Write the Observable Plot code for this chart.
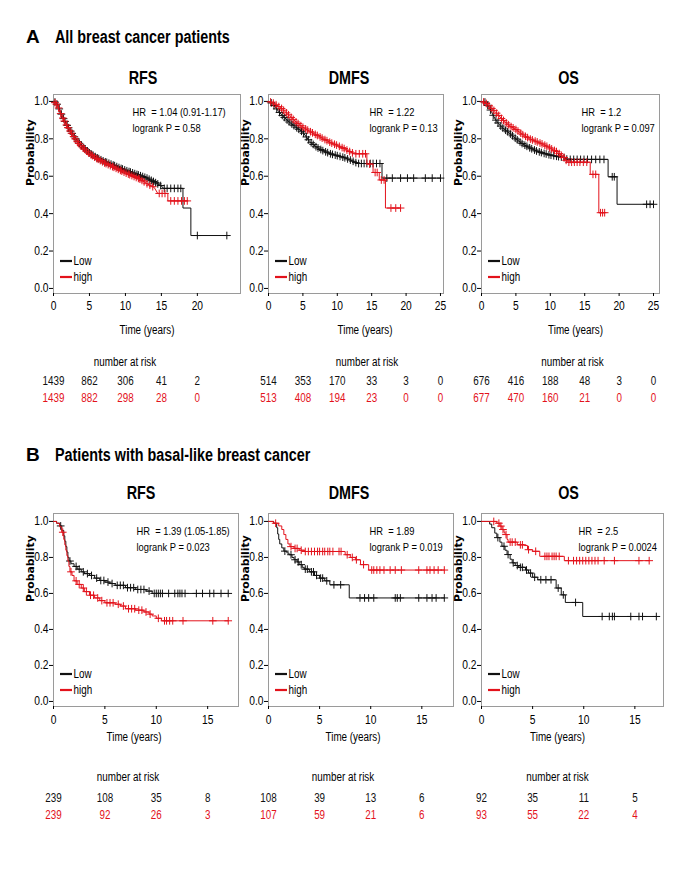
<!DOCTYPE html>
<html><head><meta charset="utf-8">
<script src="https://cdn.jsdelivr.net/npm/d3@7"></script>
<script src="https://cdn.jsdelivr.net/npm/@observablehq/plot@0.6"></script>
<style>
body{margin:0;background:#fff;}
#fig{position:relative;width:685px;height:869px;overflow:hidden;background:#fff;}
.hdr{position:absolute;font-weight:bold;color:#000;white-space:nowrap;line-height:20px;}
.plot{position:absolute;}
</style></head><body><div id="fig"></div>
<script>
// ---------- data ----------
const groups = ["Low", "high"];
const yTicks = [0, 0.2, 0.4, 0.6, 0.8, 1.0];
const ticksA20 = [0, 5, 10, 15, 20];
const ticksA25 = [0, 5, 10, 15, 20, 25];
const ticksB = [0, 5, 10, 15];

// Panel A – RFS
const aRfsLow = [[0,1],[0.3,0.995],[0.6,0.98],[1,0.94],[1.5,0.9],[2,0.865],[2.5,0.835],[3,0.805],[3.5,0.78],[4,0.76],[5,0.725],[6,0.70],[7,0.68],[8,0.665],[9,0.648],[10,0.632],[11,0.618],[12,0.604],[13,0.59],[14,0.57],[15,0.548],[15.3,0.535],[18,0.535],[18,0.43],[19.1,0.43],[19.1,0.283],[24.1,0.283]];
const aRfsHigh = [[0,1],[0.3,0.99],[0.6,0.975],[1,0.935],[1.5,0.895],[2,0.86],[2.5,0.83],[3,0.80],[3.5,0.775],[4,0.755],[5,0.72],[6,0.695],[7,0.673],[8,0.655],[9,0.637],[10,0.618],[11,0.602],[12,0.585],[13,0.56],[14,0.54],[14.5,0.508],[15.9,0.508],[15.9,0.468],[18.6,0.468]];
const aRfsLowCens = [0.2,0.5,0.8,1.1,1.4,1.6,1.9,2.1,2.4,2.6,2.9,3.1,3.4,3.6,3.9,4.2,4.4,4.7,5.0,5.3,5.5,5.8,6.1,6.3,6.6,6.9,7.2,7.4,7.7,8.0,8.3,8.5,8.8,9.1,9.4,9.6,9.9,10.2,10.5,10.7,11.0,11.3,11.6,11.8,12.1,12.4,12.7,13.0,13.3,13.6,13.9,14.2,14.5,14.9,15.4,15.8,16.3,16.8,17.3,17.7,20.0,24.1];
const aRfsHighCens = [0.2,0.4,0.7,1.0,1.3,1.5,1.8,2.0,2.3,2.5,2.8,3.0,3.3,3.5,3.8,4.1,4.3,4.6,4.9,5.2,5.4,5.7,6.0,6.2,6.5,6.8,7.1,7.3,7.6,7.9,8.2,8.4,8.7,9.0,9.3,9.5,9.8,10.1,10.4,10.6,10.9,11.2,11.5,11.8,12.0,12.3,12.6,13.0,13.4,13.8,14.7,15.1,15.5,16.3,16.8,17.3,17.8,18.2,18.6];
const aRfsRiskLow = [1439, 862, 306, 41, 2];
const aRfsRiskHigh = [1439, 882, 298, 28, 0];
const aRfsStats = ["HR  = 1.04 (0.91-1.17)", "logrank P = 0.58"];

// Panel A – DMFS
const aDmfsLow = [[0,1],[0.5,0.99],[1,0.97],[1.5,0.945],[2,0.925],[3,0.89],[4,0.862],[5,0.835],[5.5,0.81],[6,0.785],[7,0.755],[8,0.735],[9,0.72],[10,0.71],[11,0.70],[12,0.685],[13,0.668],[16.5,0.668],[16.5,0.59],[25,0.59]];
const aDmfsHigh = [[0,1],[0.5,0.995],[1,0.985],[2,0.96],[3,0.925],[4,0.89],[5,0.862],[6,0.84],[7,0.82],[8,0.80],[9,0.78],[10,0.765],[11,0.748],[12,0.728],[12.5,0.72],[14.3,0.72],[14.3,0.665],[15.2,0.665],[15.2,0.62],[16.1,0.62],[16.1,0.58],[17,0.58],[17,0.43],[19.2,0.43]];
const aDmfsLowCens = [0.4,0.8,1.2,1.6,2.0,2.3,2.7,3.0,3.4,3.7,4.1,4.4,4.8,5.1,5.5,5.8,6.2,6.5,6.9,7.2,7.6,7.9,8.3,8.6,9.0,9.3,9.7,10.0,10.4,10.8,11.1,11.5,11.9,12.3,12.7,13.1,13.5,13.9,14.3,14.8,15.2,15.7,16.2,17.2,18.0,19.2,20.2,21.1,22.8,23.8,25.0];
const aDmfsHighCens = [0.3,0.7,1.1,1.5,1.9,2.2,2.6,2.9,3.3,3.6,4.0,4.3,4.7,5.0,5.4,5.7,6.1,6.4,6.8,7.1,7.5,7.8,8.2,8.5,8.9,9.2,9.6,9.9,10.3,10.7,11.0,11.4,11.8,12.2,12.7,13.2,13.7,14.1,14.7,15.5,15.8,16.4,16.8,17.8,18.5,19.2];
const aDmfsRiskLow = [514, 353, 170, 33, 3, 0];
const aDmfsRiskHigh = [513, 408, 194, 23, 0, 0];
const aDmfsStats = ["HR  = 1.22", "logrank P = 0.13"];

// Panel A – OS
const aOsLow = [[0,1],[0.5,0.997],[1,0.975],[1.5,0.94],[2,0.905],[2.5,0.88],[3,0.86],[4,0.832],[5,0.80],[6,0.772],[7,0.752],[8,0.735],[9,0.723],[10,0.713],[11,0.706],[12,0.70],[12.5,0.69],[18.4,0.69],[18.4,0.597],[19.7,0.597],[19.7,0.45],[25,0.45]];
const aOsHigh = [[0,1],[0.5,0.995],[1,0.98],[2,0.945],[3,0.905],[4,0.872],[5,0.85],[6,0.822],[7,0.80],[8,0.785],[9,0.77],[10,0.75],[11,0.73],[12,0.70],[12.5,0.675],[15.8,0.675],[15.8,0.61],[17.05,0.61],[17.05,0.405],[17.9,0.405]];
const aOsLowCens = [0.5,0.9,1.3,1.7,2.1,2.4,2.8,3.1,3.5,3.8,4.2,4.5,4.9,5.2,5.6,5.9,6.3,6.6,7.0,7.3,7.7,8.0,8.4,8.7,9.1,9.4,9.8,10.1,10.5,10.9,11.2,11.6,12.0,12.4,12.9,13.4,13.9,14.4,14.9,15.4,16.0,16.6,17.2,17.8,19.0,19.3,24.0,24.5,25.0];
const aOsHighCens = [0.3,0.7,1.1,1.5,1.8,2.2,2.5,2.9,3.2,3.6,3.9,4.3,4.6,5.0,5.3,5.7,6.0,6.4,6.7,7.1,7.4,7.8,8.1,8.5,8.8,9.2,9.5,9.9,10.2,10.6,10.9,11.3,11.6,12.0,12.3,12.7,13.1,13.5,13.9,14.3,14.8,15.3,16.2,16.6,17.3,17.6,17.9];
const aOsRiskLow = [676, 416, 188, 48, 3, 0];
const aOsRiskHigh = [677, 470, 160, 21, 0, 0];
const aOsStats = ["HR  = 1.2", "logrank P = 0.097"];

// Panel B – RFS (step events)
const bRfsLow = [[0,1],[0.3,0.99],[0.6,0.975],[0.8,0.95],[1.0,0.92],[1.1,0.89],[1.2,0.86],[1.3,0.83],[1.4,0.80],[1.5,0.78],[1.7,0.765],[2.0,0.75],[2.3,0.735],[2.7,0.72],[3.0,0.71],[3.5,0.70],[4.0,0.685],[4.5,0.672],[5.0,0.663],[5.5,0.655],[6.0,0.645],[7.0,0.632],[8.0,0.622],[9.0,0.613],[9.6,0.60],[17,0.60]];
const bRfsHigh = [[0,1],[0.3,0.99],[0.6,0.97],[0.8,0.94],[1.0,0.90],[1.1,0.87],[1.2,0.84],[1.3,0.81],[1.4,0.78],[1.5,0.75],[1.6,0.72],[1.8,0.70],[2.0,0.67],[2.3,0.65],[2.7,0.63],[3.0,0.61],[3.5,0.59],[4.0,0.575],[4.5,0.56],[5.0,0.548],[6.0,0.54],[6.5,0.53],[7.0,0.515],[8.0,0.507],[8.8,0.497],[9.3,0.485],[9.6,0.475],[10.0,0.462],[10.5,0.448],[17,0.448]];
const bRfsLowCens = [0.7,1.6,2.2,2.5,2.9,3.3,3.7,4.2,4.6,4.9,5.3,5.7,6.2,6.5,6.8,7.2,7.5,7.8,8.2,8.5,8.8,9.3,9.8,10.0,10.2,10.4,10.6,11.2,11.8,12.1,12.3,12.5,12.8,13.9,14.5,15.2,15.6,16.3,17.0];
const bRfsHighCens = [0.9,1.7,2.2,2.5,2.9,3.2,3.6,3.9,4.3,4.7,5.2,5.5,5.8,6.3,6.8,7.3,7.6,7.9,8.3,8.6,9.0,9.4,10.2,10.8,11.0,11.3,11.6,12.6,15.5,17.0];
const bRfsRiskLow = [239, 108, 35, 8];
const bRfsRiskHigh = [239, 92, 26, 3];
const bRfsStats = ["HR  = 1.39 (1.05-1.85)", "logrank P = 0.023"];

// Panel B – DMFS
const bDmfsLow = [[0,1],[0.5,0.99],[0.8,0.965],[0.9,0.93],[1.0,0.90],[1.1,0.875],[1.3,0.853],[1.5,0.835],[1.8,0.825],[2.0,0.815],[2.3,0.80],[2.5,0.787],[2.8,0.775],[3.0,0.76],[3.3,0.745],[3.5,0.735],[4.0,0.72],[4.5,0.70],[5.0,0.685],[5.5,0.67],[6.0,0.648],[7.9,0.575],[17.2,0.575]];
const bDmfsHigh = [[0,1],[0.5,0.99],[1.0,0.975],[1.3,0.955],[1.5,0.927],[1.7,0.90],[1.9,0.875],[2.1,0.86],[2.5,0.85],[3.0,0.84],[3.5,0.833],[7.5,0.815],[8.0,0.80],[8.5,0.787],[9.0,0.76],[9.8,0.73],[17.2,0.73]];
const bDmfsLowCens = [1.6,2.2,2.6,2.9,3.2,3.6,3.8,4.2,4.4,4.7,5.1,5.3,5.7,6.4,7.06,8.95,9.4,9.8,10.3,12.4,12.6,12.9,14.7,15.5,16.0,16.4,17.2];
const bDmfsHighCens = [0.7,2.2,2.6,2.8,3.2,3.6,3.9,4.2,4.5,4.8,5.0,5.3,5.5,5.8,6.0,6.3,6.9,7.1,7.7,8.2,8.6,9.3,10.1,10.3,10.6,10.9,11.3,11.9,12.4,13.0,14.7,15.5,15.8,16.2,16.6,17.2];
const bDmfsRiskLow = [108, 39, 13, 6];
const bDmfsRiskHigh = [107, 59, 21, 6];
const bDmfsStats = ["HR  = 1.89", "logrank P = 0.019"];

// Panel B – OS
const bOsLow = [[0,1],[0.8,0.985],[1.0,0.965],[1.3,0.935],[1.5,0.91],[1.8,0.885],[2.0,0.862],[2.3,0.84],[2.5,0.816],[2.8,0.79],[3.0,0.77],[3.3,0.755],[3.6,0.745],[4.3,0.73],[4.6,0.713],[5.0,0.69],[5.5,0.676],[7.3,0.63],[7.8,0.592],[8.2,0.55],[9.9,0.472],[17.1,0.472]];
const bOsHigh = [[0,1],[1.5,0.99],[1.8,0.974],[2.0,0.955],[2.2,0.94],[2.3,0.927],[2.5,0.90],[2.6,0.885],[3.5,0.87],[4.2,0.866],[4.5,0.843],[5.0,0.834],[5.7,0.806],[8.1,0.782],[16.4,0.782]];
const bOsLowCens = [1.6,2.2,2.6,3.1,3.5,3.8,4.0,4.4,4.8,5.2,5.8,6.3,6.8,7.5,8.0,9.2,11.8,12.5,12.8,13.0,14.6,15.4,15.75,17.1];
const bOsHighCens = [1.2,1.7,1.9,2.1,2.4,2.8,3.0,3.3,3.8,4.0,4.6,5.3,6.2,6.4,6.6,6.9,7.1,7.3,7.6,8.5,9.0,9.3,9.6,9.9,10.2,10.5,10.8,11.1,11.4,12.0,13.0,15.4,16.4];
const bOsRiskLow = [92, 35, 11, 5];
const bOsRiskHigh = [93, 55, 22, 4];
const bOsStats = ["HR  = 2.5", "logrank P = 0.0024"];

// ---------- styling ----------
const BLACK = "#111";
const RED = "#e3121b";
const SANS = "'Liberation Sans',Arial,sans-serif";
const SQUEEZE = 0.82; // emulate a narrow face

const fig = document.getElementById("fig");
function header(letter, text, top) {
  const a = document.createElement("div");
  a.className = "hdr"; a.textContent = letter;
  a.style.cssText = `left:26px;top:${top}px;font-family:${SANS};font-size:19px;`;
  const b = document.createElement("div");
  b.className = "hdr"; b.textContent = text;
  b.style.cssText = `left:55px;top:${top}px;font-family:${SANS};font-size:17.5px;transform:scaleX(${SQUEEZE});transform-origin:0 50%;`;
  fig.append(a, b);
}
header("A", "All breast cancer patients", 27);
header("B", "Patients with basal-like breast cancer", 445);

function survAt(pts, t, step) {
  let s = pts[0][1];
  for (let i = 0; i < pts.length; i++) {
    const [ti, si] = pts[i];
    if (ti <= t) { s = si; continue; }
    if (!step && i > 0) {
      const [t0, s0] = pts[i - 1];
      if (ti > t0) s = s0 + (si - s0) * (t - t0) / (ti - t0);
    }
    break;
  }
  return s;
}

function legendMark(index, scales, values, dims) {
  const g = d3.create("svg:g");
  const x0 = dims.marginLeft, yb = dims.height - dims.marginBottom;
  [[groups[0], BLACK, 32], [groups[1], RED, 16]].forEach(([lab, col, off]) => {
    g.append("line").attr("x1", x0 + 7).attr("x2", x0 + 19)
      .attr("y1", yb - off).attr("y2", yb - off)
      .attr("stroke", col).attr("stroke-width", 2.2);
    g.append("text").attr("x", x0 + 20.5).attr("y", yb - off).attr("dy", "0.35em")
      .attr("text-anchor", "start").attr("font-size", 12).attr("fill", "#000").text(lab);
  });
  return g.node();
}

function panel(c) {
  const mL = 50, mR = 10, mT = 30, mB = 20;
  const W = mL + (c.r - c.l) + mR, H = mT + (c.b - c.t) + mB;
  const curve = c.step ? "step-after" : "linear";
  const rows = (pts, g) => pts.map(([time, surv]) => ({time, surv, g}));
  const cens = (times, pts, g) => times.map(time => ({time, surv: survAt(pts, time, c.step), g}));
  const risk = (arr) => arr.map((n, i) => ({time: c.xticks[i], n: String(n)}));
  const txt = {lineAnchor: "middle", fill: "#000"};
  const plot = Plot.plot({
    width: W, height: H,
    marginLeft: mL, marginRight: mR, marginTop: mT, marginBottom: mB,
    style: {background: "none", overflow: "visible", fontFamily: SANS, fontSize: "12px", color: "#000"},
    x: {domain: [0, c.xmax]},
    y: {domain: [c.ymin, c.ymax]},
    marks: [
      Plot.frame({stroke: "#9a9a9a"}),
      Plot.axisX({ticks: c.xticks, tickSize: 3, tickPadding: c.xPad, tickFormat: d => String(d), fontSize: 12.5, label: null}),
      Plot.axisY({ticks: yTicks, tickSize: 4, tickPadding: 1, tickFormat: d3.format(".1f"), fontSize: 12.5, label: null}),
      Plot.line(rows(c.low, groups[0]), {x: "time", y: "surv", stroke: BLACK, strokeWidth: 1, curve}),
      Plot.dot(cens(c.lowCens, c.low, groups[0]), {x: "time", y: "surv", symbol: "plus", r: 2.6, stroke: BLACK, strokeWidth: 1}),
      Plot.line(rows(c.high, groups[1]), {x: "time", y: "surv", stroke: RED, strokeWidth: 1, curve}),
      Plot.dot(cens(c.highCens, c.high, groups[1]), {x: "time", y: "surv", symbol: "plus", r: 2.6, stroke: RED, strokeWidth: 1}),
      Plot.text([c.title], {...txt, text: d => d, frameAnchor: "top", dx: c.titleDx, dy: c.titleDy, fontWeight: "bold", fontSize: 17.5}),
      Plot.text(["Probability"], {...txt, text: d => d, frameAnchor: "left", rotate: -90, dx: -23, dy: -8, fontFamily: "'DejaVu Sans',sans-serif", fontWeight: "bold", fontSize: 10.8}),
      Plot.text([c.stats[0]], {...txt, text: d => d, frameAnchor: "top-left", textAnchor: "start", dx: c.hrDx, dy: 18, fontSize: 11.4}),
      Plot.text([c.stats[1]], {...txt, text: d => d, frameAnchor: "top-left", textAnchor: "start", dx: c.hrDx, dy: 34, fontSize: 11.4}),
      Plot.text(["Time (years)"], {...txt, text: d => d, frameAnchor: "bottom", dx: c.timeDx, dy: c.timeDy, fontSize: 12}),
      Plot.text(["number at risk"], {...txt, text: d => d, frameAnchor: "bottom", dx: c.riskDx, dy: c.riskDy[0], fontSize: 12}),
      Plot.text(risk(c.riskLow), {...txt, x: "time", text: "n", frameAnchor: "bottom", dy: c.riskDy[1], fill: BLACK, fontSize: 12}),
      Plot.text(risk(c.riskHigh), {...txt, x: "time", text: "n", frameAnchor: "bottom", dy: c.riskDy[2], fill: RED, fontSize: 12}),
      legendMark
    ]
  });
  plot.classList.add("plot");
  plot.style.left = (c.l - mL) + "px";
  plot.style.top = (c.t - mT) + "px";
  fig.append(plot);
}

const A = {t: 94, b: 293, ymin: -0.027, ymax: 1.037, step: false, xPad: 5, titleDy: -16, timeDy: 37, riskDy: [69, 88, 105]};
const B = {t: 513, b: 706, ymin: -0.028, ymax: 1.044, step: true, xPad: 6, titleDy: -20, timeDy: 31, riskDy: [71, 92, 109], xticks: ticksB};

panel({...A, l: 53, r: 240, xmax: 26.0, xticks: ticksA20, title: "RFS", titleDx: -4, hrDx: 79, timeDx: 0, riskDx: -22,
  low: aRfsLow, high: aRfsHigh, lowCens: aRfsLowCens, highCens: aRfsHighCens, riskLow: aRfsRiskLow, riskHigh: aRfsRiskHigh, stats: aRfsStats});
panel({...A, l: 268, r: 443, xmax: 25.44, xticks: ticksA25, title: "DMFS", titleDx: -7, hrDx: 101, timeDx: 9, riskDx: 11,
  low: aDmfsLow, high: aDmfsHigh, lowCens: aDmfsLowCens, highCens: aDmfsHighCens, riskLow: aDmfsRiskLow, riskHigh: aDmfsRiskHigh, stats: aDmfsStats});
panel({...A, l: 481, r: 659, xmax: 25.87, xticks: ticksA25, title: "OS", titleDx: -2, hrDx: 100, timeDx: 5, riskDx: 2,
  low: aOsLow, high: aOsHigh, lowCens: aOsLowCens, highCens: aOsHighCens, riskLow: aOsRiskLow, riskHigh: aOsRiskHigh, stats: aOsStats});
panel({...B, l: 53, r: 238, xmax: 18.0, title: "RFS", titleDx: -5, hrDx: 83, timeDx: -12, riskDx: -18,
  low: bRfsLow, high: bRfsHigh, lowCens: bRfsLowCens, highCens: bRfsHighCens, riskLow: bRfsRiskLow, riskHigh: bRfsRiskHigh, stats: bRfsStats});
panel({...B, l: 268, r: 453, xmax: 18.1, title: "DMFS", titleDx: -12, hrDx: 101, timeDx: -8, riskDx: -18,
  low: bDmfsLow, high: bDmfsHigh, lowCens: bDmfsLowCens, highCens: bDmfsHighCens, riskLow: bDmfsRiskLow, riskHigh: bDmfsRiskHigh, stats: bDmfsStats});
panel({...B, l: 481, r: 663, xmax: 17.8, title: "OS", titleDx: -4, hrDx: 97, timeDx: -15, riskDx: -15,
  low: bOsLow, high: bOsHigh, lowCens: bOsLowCens, highCens: bOsHighCens, riskLow: bOsRiskLow, riskHigh: bOsRiskHigh, stats: bOsStats});

// condense the sans text to the narrow look of the original (keeps anchors)
fig.querySelectorAll("svg text").forEach(el => {
  if (el.textContent === "Probability" || el.querySelector("tspan")) return;
  const len = el.getComputedTextLength();
  if (len > 0) {
    el.setAttribute("textLength", (len * SQUEEZE).toFixed(2));
    el.setAttribute("lengthAdjust", "spacingAndGlyphs");
  }
});
</script></body></html>
